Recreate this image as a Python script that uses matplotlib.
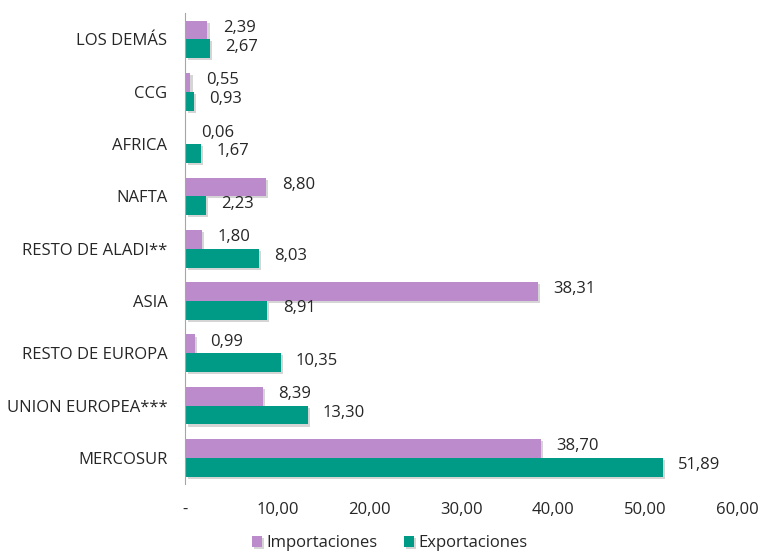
import matplotlib.pyplot as plt
import matplotlib.patheffects as pe
import numpy as np

plt.rcParams['font.family'] = ['Open Sans', 'DejaVu Sans']

# data (bottom to top)
regiones = ['MERCOSUR', 'UNION EUROPEA***', 'RESTO DE EUROPA', 'ASIA',
            'RESTO DE ALADI**', 'NAFTA', 'AFRICA', 'CCG', 'LOS DEMÁS']
importaciones = [38.70, 8.39, 0.99, 38.31, 1.80, 8.80, 0.06, 0.55, 2.39]
exportaciones = [51.89, 13.30, 10.35, 8.91, 8.03, 2.23, 1.67, 0.93, 2.67]

col_imp = '#BC8BCB'
col_exp = '#009B86'
txt = '#262626'

fig = plt.figure(figsize=(7.6, 5.52), dpi=100)
ax = fig.add_axes([0.244, 0.123, 0.726, 0.853])

y = np.arange(len(regiones))
h = 0.36
shadow = [pe.SimplePatchShadow(offset=(1.5, -1.5), shadow_rgbFace='#888888', alpha=0.35), pe.Normal()]

b1 = ax.barh(y + h/2, importaciones, height=h, color=col_imp, label='Importaciones', path_effects=shadow)
b2 = ax.barh(y - h/2, exportaciones, height=h, color=col_exp, label='Exportaciones', path_effects=shadow)

def fmt(v):
    return f'{v:.2f}'.replace('.', ',')

for bars, vals in ((b1, importaciones), (b2, exportaciones)):
    for b, v in zip(bars, vals):
        ax.annotate(fmt(v), (v, b.get_y() + b.get_height()/2), xytext=(11, 1.5),
                    textcoords='offset points', va='center', ha='left',
                    fontsize=12, color=txt)

ax.set_xlim(0, 60)
ax.set_ylim(-0.5, len(regiones) - 0.5)
ax.set_yticks(y)
ax.set_yticklabels(regiones, fontsize=12, color=txt)
ax.set_xticks(range(0, 61, 10))
ax.set_xticklabels(['-'] + [fmt(v) for v in range(10, 61, 10)], fontsize=12, color=txt)
ax.tick_params(axis='both', length=0)
ax.tick_params(axis='y', pad=13)
ax.tick_params(axis='x', pad=13)

for s in ['top', 'right', 'bottom']:
    ax.spines[s].set_visible(False)
ax.spines['left'].set_color('#A6A6A6')

fig.legend(handles=[b1, b2], loc='center', bbox_to_anchor=(0.513, 0.016), ncol=2,
           frameon=False, fontsize=12, handlelength=0.6, handleheight=0.6,
           handletextpad=0.25, columnspacing=1.6, labelcolor=txt)

fig.savefig('out.png', dpi=100)
